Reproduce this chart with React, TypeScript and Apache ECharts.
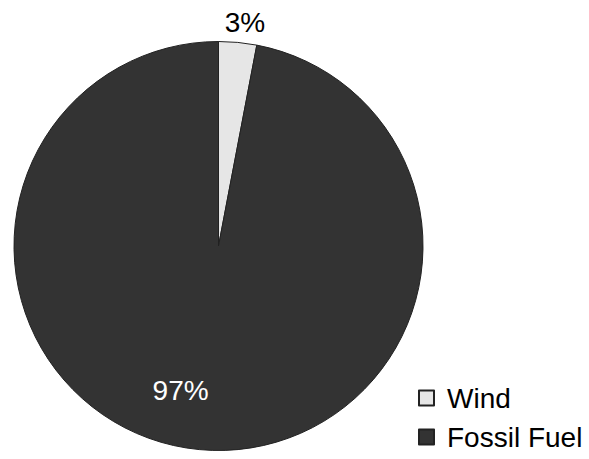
import React, { useEffect, useRef } from "react";
import * as echarts from "echarts";

const categories = ["Wind", "Fossil Fuel"];
const values = [3, 97];
const colors = ["#e6e6e6", "#333333"];
const labelTexts = ["3%", "97%"];

export default function App() {
  const ref = useRef<HTMLDivElement>(null);
  useEffect(() => {
    if (!ref.current) return;
    const chart = echarts.init(ref.current, undefined, { renderer: "svg" });
    const font = "'Liberation Sans', Arial, sans-serif";
    const fs = 28;
    chart.setOption({
      animation: false,
      backgroundColor: "#ffffff",
      textStyle: { fontFamily: font },
      legend: {
        orient: "vertical",
        left: 418,
        top: 384,
        padding: 0,
        itemWidth: 15,
        itemHeight: 15,
        itemGap: 11,
        icon: "rect",
        data: categories,
        textStyle: { fontSize: fs, color: "#000000", fontFamily: font, padding: [0, 0, 0, 8] },
      },
      series: [
        {
          type: "pie",
          center: [218.5, 246],
          radius: 204.5,
          startAngle: 90,
          clockwise: true,
          avoidLabelOverlap: false,
          itemStyle: { borderColor: "#222222", borderWidth: 1 },
          labelLine: { show: false, length: 0, length2: 0 },
          data: categories.map((name, i) => ({
            name,
            value: values[i],
            itemStyle: { color: colors[i] },
            label: i === 0
              ? { show: true, position: "outside", formatter: labelTexts[i], fontSize: fs, color: "#000000", fontFamily: font }
              : { show: true, position: "inside", formatter: labelTexts[i], fontSize: fs, color: "#ffffff", fontFamily: font },
          })),
          labelLayout: (params: any) => {
            if (params.dataIndex === 0) return { dx: -18, dy: -20 };
            return { dx: -28, dy: 40 };
          },
        },
      ],
    });
    return () => chart.dispose();
  }, []);
  return <div ref={ref} style={{ width: 589, height: 459, position: "absolute", left: 0, top: 0 }} />;
}
